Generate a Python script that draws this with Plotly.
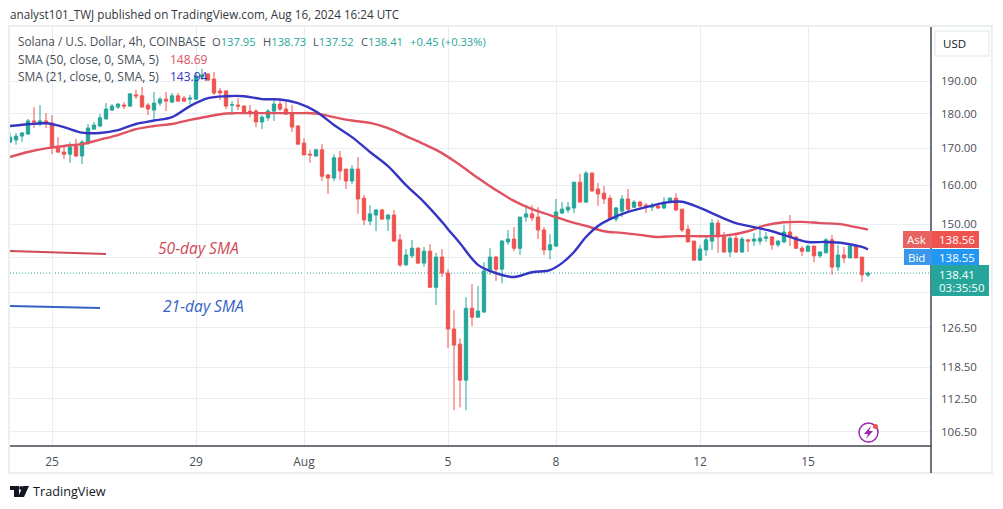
import plotly.graph_objects as go

WIDTH, HEIGHT = 1003, 509
LEFT, RIGHT, TOP, BOTTOM = 10, 931, 27, 446

_UP = "#26a69a"
_DOWN = "#ef5350"
_SMA50 = "#e0525f"
_SMA21 = "#3535c4"
_GRID = "#e8eef2"
_TEXT = "#4a4f57"
_FONT = "Open Sans, Noto Sans, sans-serif"

# one row per 4h candle, the first one is clipped by the left edge
candle_ids = list(range(-7, 137))
opens = [
    171.8, 172.4, 173.5, 174.1, 177.9, 177.0, 177.9, 177.3, 170.4, 169.0, 168.4, 170.7,
    167.9, 171.5, 175.5, 176.4, 178.5, 181.1, 182.0, 182.6, 182.3, 185.7, 185.4, 182.6,
    181.1, 183.2, 184.4, 183.5, 185.4, 184.7, 184.4, 184.4, 191.3, 192.2, 190.6, 186.9,
    186.9, 182.6, 182.6, 182.3, 180.8, 180.8, 177.6, 178.8, 180.8, 182.9, 181.4, 179.9,
    176.4, 171.5, 168.4, 167.9, 169.6, 162.7, 161.9, 167.4, 164.3, 161.1, 164.3, 156.6,
    150.8, 152.3, 153.6, 151.3, 152.3, 146.2, 140.3, 142.4, 144.2, 140.7, 143.5, 135.2,
    142.1, 138.4, 126.2, 123.1, 116.0, 130.6, 128.7, 129.8, 138.9, 142.1, 139.3, 145.7,
    146.4, 144.2, 151.8, 152.6, 151.8, 148.6, 143.8, 144.7, 152.8, 153.6, 154.1, 160.8,
    155.6, 163.2, 159.0, 157.9, 156.6, 151.3, 153.3, 156.4, 154.3, 155.6, 154.8, 154.3,
    154.6, 154.1, 155.6, 156.6, 153.8, 148.8, 145.9, 141.4, 143.8, 145.9, 150.3, 147.1,
    143.3, 146.6, 143.3, 146.2, 145.9, 145.9, 146.6, 146.9, 145.0, 145.7, 148.1, 146.9,
    144.2, 143.5, 144.7, 142.4, 143.1, 146.2, 139.8, 142.6, 141.9, 144.7, 142.1, 137.95,
]
highs = [
    174.4, 174.4, 174.7, 178.5, 182.0, 182.6, 180.2, 179.6, 173.2, 171.0, 171.8, 172.7,
    172.4, 177.0, 177.6, 179.9, 183.2, 182.9, 183.2, 183.5, 186.3, 187.2, 188.1, 183.2,
    186.6, 185.1, 186.6, 186.3, 186.3, 185.4, 185.7, 192.9, 193.9, 192.5, 192.9, 187.8,
    187.2, 183.8, 184.7, 182.6, 182.6, 181.4, 179.6, 181.4, 184.1, 184.4, 183.5, 182.6,
    176.7, 172.9, 169.6, 169.8, 171.2, 163.0, 168.4, 169.3, 164.3, 165.4, 167.6, 157.4,
    154.8, 153.8, 153.8, 152.6, 153.6, 147.6, 144.0, 146.2, 144.5, 144.5, 145.2, 143.1,
    144.0, 139.3, 130.2, 124.3, 133.0, 135.9, 135.5, 140.9, 144.2, 142.4, 146.2, 148.6,
    149.3, 151.8, 154.8, 154.8, 154.3, 149.3, 147.6, 156.4, 155.6, 155.6, 160.8, 163.0,
    163.8, 163.5, 160.6, 159.8, 157.4, 154.3, 157.4, 159.0, 156.1, 155.9, 155.4, 155.4,
    154.8, 156.9, 156.9, 157.9, 153.8, 149.8, 145.9, 145.0, 146.9, 151.3, 151.1, 148.1,
    147.4, 147.4, 146.9, 146.4, 147.9, 149.8, 148.1, 147.1, 146.2, 149.8, 152.3, 147.1,
    144.7, 145.0, 144.7, 143.5, 146.6, 147.4, 145.0, 144.5, 145.0, 145.0, 142.1, 138.73,
]
lows = [
    171.5, 171.0, 171.8, 173.8, 175.8, 176.4, 175.8, 168.4, 168.7, 167.1, 166.0, 167.6,
    165.7, 171.0, 175.5, 176.1, 178.2, 180.8, 181.4, 181.4, 182.0, 184.4, 182.0, 179.6,
    178.5, 182.3, 180.8, 183.2, 183.8, 183.5, 182.9, 184.4, 190.3, 190.0, 185.7, 184.1,
    181.4, 179.6, 181.1, 180.2, 179.0, 176.1, 175.5, 177.9, 177.9, 180.8, 179.6, 174.7,
    171.0, 168.2, 166.0, 167.6, 161.1, 157.7, 161.1, 161.4, 159.0, 160.3, 152.6, 149.8,
    149.8, 148.3, 151.1, 148.3, 145.7, 139.8, 140.0, 141.9, 140.5, 139.8, 135.0, 131.3,
    137.5, 122.3, 110.4, 110.9, 110.4, 126.8, 128.7, 129.6, 138.0, 136.6, 136.1, 145.0,
    143.5, 142.6, 150.6, 150.8, 146.4, 142.6, 141.6, 144.5, 152.6, 152.8, 152.8, 155.4,
    155.4, 158.2, 154.6, 155.1, 151.1, 150.6, 151.8, 153.3, 154.1, 154.3, 152.8, 153.3,
    153.8, 153.8, 155.4, 153.3, 148.1, 145.7, 141.2, 141.2, 142.4, 143.8, 143.1, 143.1,
    142.1, 143.1, 143.1, 143.3, 144.7, 145.0, 145.7, 143.8, 144.5, 145.4, 144.7, 144.0,
    142.4, 143.3, 140.9, 141.9, 143.1, 138.0, 138.9, 140.7, 141.9, 141.9, 136.4, 137.52,
]
closes = [
    173.2, 173.5, 174.4, 177.9, 177.6, 177.9, 177.6, 170.4, 169.0, 168.4, 170.4, 167.9,
    171.8, 175.8, 176.7, 178.8, 181.4, 182.3, 182.9, 182.3, 186.0, 185.4, 182.0, 181.4,
    183.2, 184.4, 183.8, 185.4, 183.8, 183.8, 184.7, 191.6, 191.9, 190.3, 186.3, 186.3,
    182.3, 182.7, 182.3, 180.5, 180.5, 177.6, 179.0, 180.8, 182.9, 181.4, 179.9, 176.1,
    171.2, 168.2, 168.2, 169.6, 162.4, 161.9, 167.4, 163.8, 161.1, 164.3, 156.4, 151.1,
    152.6, 153.6, 151.3, 152.3, 145.9, 140.3, 142.6, 144.2, 140.7, 143.5, 135.2, 142.1,
    138.4, 126.2, 122.9, 116.0, 130.6, 128.7, 130.0, 138.9, 142.1, 139.3, 145.9, 146.4,
    144.2, 151.8, 152.6, 151.6, 148.6, 143.8, 145.0, 153.1, 153.8, 154.3, 160.8, 155.6,
    163.2, 158.5, 157.7, 156.4, 151.3, 154.1, 156.4, 153.8, 155.6, 154.6, 154.3, 154.6,
    154.1, 155.6, 156.6, 153.6, 148.6, 145.7, 141.4, 144.0, 146.2, 150.3, 146.9, 143.3,
    146.6, 143.3, 146.4, 145.9, 146.4, 146.6, 146.9, 145.0, 145.9, 148.1, 146.9, 144.2,
    143.5, 144.7, 142.4, 143.3, 146.2, 139.8, 142.6, 141.9, 144.7, 141.9, 138.0, 138.41,
]

sma21_ids = [
    -7, -4, -1, 2, 5, 8, 11, 14, 17, 20, 23, 26, 29, 32, 35, 38, 41, 44, 47, 50, 53, 56, 59, 62, 65, 66,
    68, 71, 74, 77, 80, 83, 85, 87, 89, 91, 93, 96, 99, 102, 105, 108, 111, 114, 117, 120, 123, 126, 129,
    132, 135, 136,
]
sma21 = [
    176.4, 176.9, 177.2, 176.1, 174.5, 174.4, 175.2, 177.0, 178.0, 179.0, 182.3, 184.7, 185.3, 185.3,
    184.4, 184.3, 183.2, 180.7, 176.7, 173.2, 169.0, 165.1, 160.0, 155.6, 150.6, 148.8, 145.4, 140.3,
    138.4, 137.5, 138.6, 139.1, 140.7, 143.3, 146.9, 149.6, 151.3, 153.1, 154.3, 155.4, 155.7, 154.1,
    152.1, 150.3, 149.3, 148.3, 146.9, 145.7, 145.7, 145.4, 144.5, 143.94,
]
sma50_ids = [
    -7, -4, -1, 2, 5, 8, 11, 14, 17, 20, 23, 26, 29, 32, 35, 38, 41, 44, 47, 50, 53, 56, 59, 62, 65, 68,
    71, 74, 77, 80, 83, 86, 89, 92, 95, 98, 101, 104, 107, 110, 113, 116, 119, 122, 125, 128, 131, 134,
    136,
]
sma50 = [
    167.6, 169.0, 170.0, 170.7, 171.2, 172.5, 173.8, 175.5, 176.4, 177.0, 178.2, 179.2, 180.1, 180.2,
    180.2, 180.2, 180.2, 180.1, 179.0, 178.0, 177.3, 175.8, 173.5, 171.2, 168.7, 165.4, 161.9, 158.7,
    155.9, 153.8, 152.3, 150.8, 149.6, 148.3, 147.9, 147.4, 146.9, 147.1, 147.1, 147.1, 147.4, 148.3,
    149.8, 150.5, 150.6, 150.3, 150.1, 149.3, 148.69,
]

date_ticks = [0, 24, 42, 66, 84, 108, 126]
date_labels = ["25", "29", "Aug", "5", "8", "12", "15"]
# 142 and 134 only draw a grid line here, their labels sit behind the price flags
price_ticks = [190, 180, 170, 160, 150, 142, 134, 126.5, 118.5, 112.5, 106.5]
price_labels = ["190.00", "180.00", "170.00", "160.00", "150.00", "", "", "126.50", "118.50", "112.50", "106.50"]
last_price = 138.41


def _px(x):
    return (x - LEFT) / (RIGHT - LEFT)


def _py(y):
    return (BOTTOM - y) / (BOTTOM - TOP)


def _text(x, y, text, size=12, color=_TEXT, xanchor="left", italic=False):
    return dict(
        x=_px(x), y=_py(y), xref="paper", yref="paper", text=f"<i>{text}</i>" if italic else text,
        showarrow=False, xanchor=xanchor, yanchor="middle", align="left",
        font={"family": _FONT, "size": size, "color": color}, borderpad=0, borderwidth=0,
    )


def _box(x0, y0, x1, y1, fill, line=None, width=0):
    return dict(
        type="rect", xref="paper", yref="paper", x0=_px(x0), x1=_px(x1), y0=_py(y0), y1=_py(y1),
        fillcolor=fill, line={"color": line or fill, "width": width}, layer="above",
    )


def _seg(x0, y0, x1, y1, color, width=2):
    return dict(
        type="line", xref="paper", yref="paper", x0=_px(x0), x1=_px(x1), y0=_py(y0), y1=_py(y1),
        line={"color": color, "width": width}, layer="above",
    )


def _path(points, fill):
    d = "M " + " L ".join(f"{_px(x):.5f},{_py(y):.5f}" for x, y in points) + " Z"
    return dict(type="path", xref="paper", yref="paper", path=d, fillcolor=fill, line={"width": 0}, layer="above")


fig = go.Figure()
fig.add_trace(go.Candlestick(
    x=candle_ids, open=opens, high=highs, low=lows, close=closes,
    increasing={"line": {"color": _UP, "width": 1}, "fillcolor": _UP},
    decreasing={"line": {"color": _DOWN, "width": 1}, "fillcolor": _DOWN},
    whiskerwidth=0, hoverinfo="skip",
))
fig.add_trace(go.Scatter(x=sma50_ids, y=sma50, mode="lines", line={"color": _SMA50, "width": 2.4, "shape": "spline"}, hoverinfo="skip"))
fig.add_trace(go.Scatter(x=sma21_ids, y=sma21, mode="lines", line={"color": _SMA21, "width": 2.4, "shape": "spline"}, hoverinfo="skip"))

shapes = [
    # outer frame of the widget, axis lines
    _box(LEFT - 1, TOP - 1, 992, 473, "rgba(0,0,0,0)", "#eceff1", 2),
    _seg(LEFT, BOTTOM, RIGHT, BOTTOM, "#434651", 1.5),
    _seg(RIGHT, TOP, RIGHT, 473, "#434651", 1.5),
    # last price
    dict(type="line", xref="paper", yref="y", x0=0, x1=1, y0=last_price, y1=last_price,
         line={"color": _UP, "width": 1, "dash": "1px,2px"}, layer="below"),
    # hand drawn legend strokes
    _seg(10, 251, 106, 254, "#cf4a56", 2),
    _seg(10, 306, 100, 308, "#3563c4", 2),
    # price labels
    _box(935, 31, 989, 56, "#ffffff", "#eceff1", 1.5),
    _box(903, 231, 932, 248, "#e8635f"),
    _box(932, 231, 979, 248, _DOWN),
    _box(904, 249, 932, 265, "#3a97ea"),
    _box(932, 249, 979, 265, "#2196f3"),
    _box(931, 265, 989, 296, _UP),
    # TradingView logo
    _path([(10, 486), (19, 486), (19, 497), (14, 497), (14, 490), (10, 490)], "#131722"),
    _path([(23, 486), (29, 486), (24, 497), (18, 497)], "#131722"),
    dict(type="circle", xref="paper", yref="paper", x0=_px(19.2), x1=_px(23), y0=_py(486), y1=_py(490),
         fillcolor="#131722", line={"width": 0}, layer="above"),
    # lightning badge
    dict(type="circle", xref="paper", yref="paper", x0=_px(859), x1=_px(878), y0=_py(423), y1=_py(442),
         fillcolor="#ffffff", line={"color": "#9c27b0", "width": 1.5}, layer="above"),
    _path([(871, 426), (864, 434), (868, 434), (866, 439), (873, 431), (869, 431)], "#9c27b0"),
    dict(type="circle", xref="paper", yref="paper", x0=_px(873), x1=_px(878), y0=_py(424), y1=_py(429),
         fillcolor="#ef5350", line={"width": 0}, layer="above"),
]

green = f'<span style="color:{_UP}">'
annotations = [
    _text(10, 14, "analyst101_TWJ published on TradingView.com, Aug 16, 2024 16:24 UTC", 11.7, "#333740"),
    _text(18, 41, "Solana / U.S. Dollar, 4h, COINBASE", 11.8),
    _text(212, 41, f"O{green}137.95</span>", 11.2),
    _text(263, 41, f"H{green}138.73</span>", 11.2),
    _text(313, 41, f"L{green}137.52</span>", 11.2),
    _text(361, 41, f"C{green}138.41</span>", 11.2),
    _text(410, 41, f"{green}+0.45 (+0.33%)</span>", 11.2),
    _text(18, 59, "SMA (50, close, 0, SMA, 5)", 12),
    _text(170, 59, "148.69", 12, _SMA50),
    _text(18, 76, "SMA (21, close, 0, SMA, 5)", 12),
    _text(170, 76, "143.94", 12, _SMA21),
    _text(158, 248, "50-day SMA", 15.6, "#cf4a56", italic=True),
    _text(163, 306, "21-day SMA", 15.6, "#3563c4", italic=True),
    _text(943, 44, "USD", 11.5, "#131722"),
    _text(916, 239.5, "Ask", 11.5, "#ffffff", "center"),
    _text(957, 239.5, "138.56", 11.5, "#ffffff", "center"),
    _text(916, 257, "Bid", 11.5, "#ffffff", "center"),
    _text(957, 257, "138.55", 11.5, "#ffffff", "center"),
    _text(957, 274, "138.41", 11.5, "#ffffff", "center"),
    _text(962, 287, "03:35:50", 11.5, "#ffffff", "center"),
    _text(33, 491, "TradingView", 12.7, "#131722"),
]

fig.update_layout(
    width=WIDTH, height=HEIGHT, autosize=False,
    margin={"l": LEFT, "r": WIDTH - RIGHT, "t": TOP, "b": HEIGHT - BOTTOM, "pad": 0},
    paper_bgcolor="#ffffff", plot_bgcolor="#ffffff",
    showlegend=False, boxgap=0.2, hovermode=False,
    font={"family": _FONT, "size": 12, "color": _TEXT},
    shapes=shapes, annotations=annotations,
    xaxis={
        "range": [-7, 146.5], "tickmode": "array", "tickvals": date_ticks, "ticktext": date_labels,
        "showgrid": True, "gridcolor": _GRID, "gridwidth": 1, "zeroline": False, "showline": False,
        "ticks": "", "rangeslider": {"visible": False}, "ticklabelstandoff": 7,
        "tickfont": {"family": _FONT, "size": 12, "color": _TEXT},
    },
    yaxis={
        "type": "log", "side": "right", "range": [2.01728, 2.31744], "tickmode": "array",
        "tickvals": price_ticks, "ticktext": price_labels,
        "showgrid": True, "gridcolor": _GRID, "gridwidth": 1, "zeroline": False, "showline": False,
        "ticks": "", "ticklabelstandoff": 9,
        "tickfont": {"family": _FONT, "size": 11.5, "color": _TEXT},
    },
)

fig.write_html("out.html", config={"displayModeBar": False}, post_script="document.body.style.margin='0';")
